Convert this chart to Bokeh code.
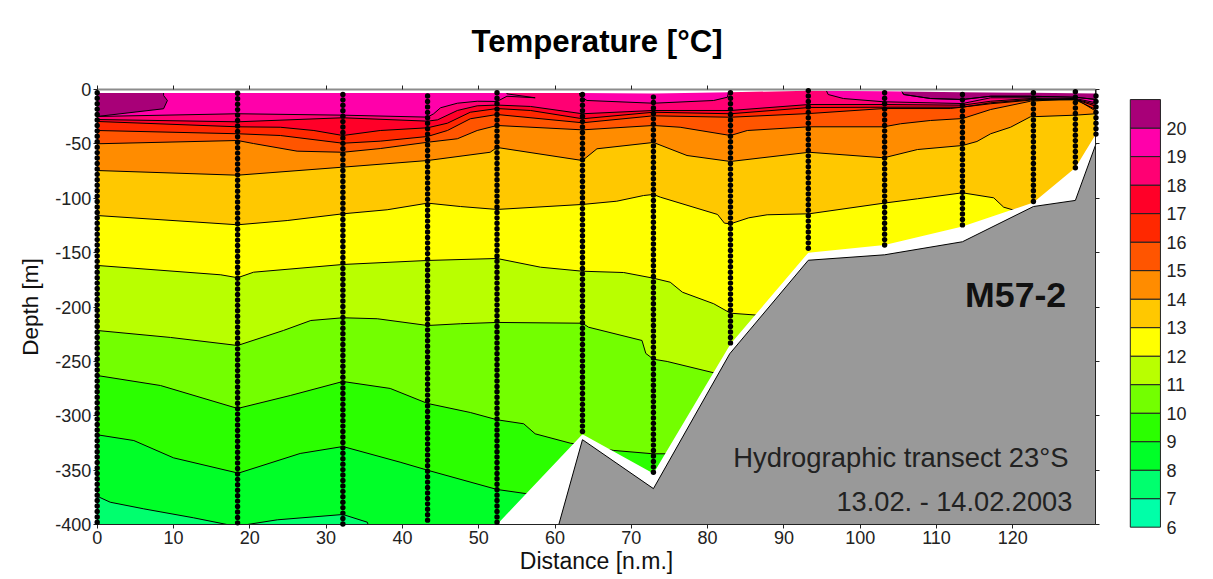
from bokeh.plotting import figure
from bokeh.models import LinearAxis, FixedTicker, Range1d
from bokeh.core.properties import value
from bokeh.embed import file_html
from bokeh.resources import INLINE

FONT = "Liberation Sans"

# colour classes (temperature band lower limit -> colour)
band_low = [6, 7, 8, 9, 10, 11, 12, 13, 14, 15, 16, 17, 18, 19, 20]
band_col = ["#00FFA8", "#00FF6E", "#00FF28", "#2BFF00", "#73FF00", "#B9FF00", "#FFFF00", "#FFC800",
            "#FF8C00", "#FF5500", "#FF2800", "#FF0028", "#FF0073", "#FF00AA", "#A80078"]

# stations
st_x = [0, 18.4, 32.2, 43.3, 52.4, 63.6, 72.9, 83.0, 93.2, 103.2, 113.4, 122.7, 128.2, 130.9]
st_first = [-3, -3.5, -4.5, -6, -3, -4.5, -7, -3, -1, -3, -4.5, -3, -2, -6]
st_last = [-400, -400, -402, -400, -400, -317, -353, -234, -150, -143, -126, -104, -72, -41]
sample_offset = [0, 5, 10, 15, 20, 25, 30, 35, 40, 45, 50, 55, 60, 65, 70, 75, 80, 85, 90, 95,
                 100, 105, 110, 115, 120, 125, 130, 135, 140, 145, 150, 155, 160, 165, 170, 175, 180, 185, 190, 195,
                 200, 205, 210, 215, 220, 225, 230, 235, 240, 245, 250, 255, 260, 265, 270, 275, 280, 285, 290, 295,
                 300, 305, 310, 315, 320, 325, 330, 335, 340, 345, 350, 355, 360, 365, 370, 375, 380, 385, 390, 395, 400]

# sea surface of the blanked section
surf_x = [0, 52.4, 63.6, 72.9, 83.0, 93.2, 103.2, 113.4, 122.7, 130.9]
surf_z = [-3.3, -3.3, -3.3, -3.7, -2.5, -1.2, -1.5, -2.5, -3, -3.7]

# sea floor
bed_x = [60.5, 63.6, 72.9, 82.9, 93.2, 103.2, 113.4, 122.7, 128.2, 130.9]
bed_z = [-400, -322, -367, -243, -157, -152, -140, -107.6, -102, -50]

# 20 degree isotherm patches
iso20a_x = [0, 8.7, 9.2, 8.7, 8.7, 0]
iso20a_z = [-24.8, -17.7, -10.1, -5.5, 0, 0]
iso20b_x = [105.3, 105.7, 109.2, 113.4, 117.1, 122.3, 128.2, 130.9, 130.9]
iso20b_z = [0, -4.6, -8.3, -9.2, -6.2, -6.2, -7.1, -9.2, 0]

iso19_x = [0, 18.4, 32.2, 43.3, 44.1, 45, 47.2, 49.8, 52.4, 53.7, 57.4, 53.7, 53.7, 63.1, 63.3, 64.2, 72.9, 80.8, 82.6, 82.8, 95.5, 95.8, 97.8, 103.1, 113.4, 117.1, 122.3, 128.2, 130.9]
iso19_z = [-24.8, -22.3, -23.6, -25.4, -22.3, -16.8, -12.6, -10.8, -11, -6.2, -7.6, -4, 0, 0, -6.4, -10.1, -12.6, -10.1, -7.1, 0, 0, -4.6, -8.3, -11.3, -12.9, -7.6, -7.6, -8.3, -12.2]
iso18_x = [0, 18.4, 32.2, 43.3, 44.6, 47.2, 49.8, 52.4, 56.8, 63.6, 72.9, 83, 93.3, 103.1, 113.4, 117.1, 122.3, 128.2, 130.9]
iso18_z = [-27.6, -29.7, -26, -29.1, -27.9, -19.3, -15, -14.3, -15.6, -22.3, -19.3, -19.3, -13.8, -13.8, -14.4, -10.8, -8.3, -8.9, -13.8]
iso17_x = [0, 18.4, 24, 28.4, 32.2, 37.1, 43.3, 45.9, 48.9, 52.4, 56.8, 63.6, 72.9, 83, 93.3, 103.1, 113.4, 117.1, 122.3, 128.2, 130.9]
iso17_z = [-29.4, -34.3, -34.7, -37.7, -42.3, -37.7, -35.2, -31, -20.9, -17.5, -19.3, -26.9, -20.9, -22.3, -16.6, -16.3, -16.3, -12.2, -9.2, -9.2, -15.4]
iso16_x = [0, 18.4, 24, 32.2, 37.1, 43.3, 45.9, 48.9, 52.4, 63.6, 72.9, 83, 93.3, 103.1, 111.8, 117.1, 122.3, 128.2, 130.9]
iso16_z = [-37.7, -40.7, -42.3, -49.4, -47.5, -43.2, -37.7, -26.9, -23, -30.6, -24.2, -25.5, -22.1, -17.5, -17.5, -13.1, -9.8, -9.5, -18.4]
iso15_x = [0, 18.4, 20.5, 26.2, 32.2, 37.1, 43.3, 47.2, 49.8, 52.4, 63.6, 72.9, 76.4, 83, 85.2, 93.3, 103.1, 105.3, 109.2, 113.4, 117.1, 122.3, 128.2, 129.1, 130.9]
iso15_z = [-49.9, -46.9, -49.7, -56.7, -57.7, -54.3, -48.5, -45.3, -37.7, -33.1, -37.1, -33.1, -34.7, -42.3, -37.7, -34.3, -34.3, -31.5, -28.5, -26.7, -18.4, -10.8, -8.3, -12.2, -20]
iso14_x = [0, 18.4, 32.2, 43.3, 51.5, 52.4, 63.6, 65.5, 72.9, 77.3, 83, 93.3, 103.1, 107.5, 113.4, 115.3, 117.1, 119.7, 122.3, 128.2, 130.9]
iso14_z = [-74.5, -78.8, -71.4, -65.3, -57.7, -53.3, -65.3, -54.5, -48.7, -60.7, -66.2, -57.7, -62.8, -55.2, -51.5, -47.8, -40.7, -34.7, -25.1, -23.6, -22.3]
iso13_x = [0, 18.4, 24.9, 32.2, 38, 43.3, 47.6, 52.4, 63.6, 68.1, 71.6, 72.9, 73.8, 81.3, 82.2, 83, 85.4, 87.8, 93.3, 103.1, 107.5, 113.4, 117.5, 118.8, 120.6, 123.6]
iso13_z = [-115.9, -124.4, -120.5, -114.3, -110.6, -104.5, -107.6, -110.3, -105.7, -102.7, -97.5, -96.5, -99, -114.9, -122.9, -123.5, -118, -115.2, -114.3, -104.5, -100.5, -95, -99.6, -108.2, -111.9, -115.9]
iso12_x = [0, 16.2, 18.4, 20.5, 32.2, 43.3, 52.4, 58.1, 63.6, 69, 72.9, 75.1, 76.7, 80.8, 83, 86.5, 88.9]
iso12_z = [-161.8, -170.4, -173.1, -168, -160.9, -157.2, -155.4, -163.4, -167.1, -168.3, -173.5, -177.2, -186.4, -197, -205.7, -207.5, -209]
iso11_x = [0, 9.6, 18.4, 24.4, 28, 32.2, 36.7, 43.3, 47.6, 52.4, 63.6, 64.4, 71.4, 71.9, 72.9, 74.7, 80.8, 81.9]
iso11_z = [-221.6, -228, -235.4, -221.6, -212.4, -209.9, -210.8, -217, -215.4, -214.2, -214.9, -218.6, -230.8, -242.7, -248, -250.1, -260.5, -262]
iso10_x = [0, 8.3, 18.4, 25.3, 32.2, 38.4, 43.3, 48.9, 52.4, 55.9, 57.4, 62, 67.7, 72.9, 74.5, 75.4]
iso10_z = [-263, -272.2, -293.3, -281.4, -268.5, -274.9, -288.7, -297, -303.7, -307.4, -316.6, -325.2, -331.9, -335, -335, -335]
iso9_x = [0, 4.8, 10, 18.5, 26.6, 32.2, 39.7, 43.4, 52.4, 56.1, 57.4]
iso9_z = [-317.5, -322.8, -338.7, -352.8, -334.7, -328.3, -342.7, -350.3, -367.8, -371.5, -373.3]
iso8_x = [0, 1.7, 6.1, 12.6, 17, 19.7, 23.6, 32.2, 35.4, 35.5]
iso8_z = [-374, -379.5, -385.6, -393.8, -400, -400, -395.7, -390.8, -397.9, -400]

# isotherm -> colour of the band that lies below it, warm to cold
isotherms = [(19, iso19_x, iso19_z), (18, iso18_x, iso18_z), (17, iso17_x, iso17_z), (16, iso16_x, iso16_z),
             (15, iso15_x, iso15_z), (14, iso14_x, iso14_z), (13, iso13_x, iso13_z), (12, iso12_x, iso12_z),
             (11, iso11_x, iso11_z), (10, iso10_x, iso10_z), (9, iso9_x, iso9_z), (8, iso8_x, iso8_z)]

# text
title_text = "Temperature [°C]"
note_text = ["M57-2", "Hydrographic transect 23°S", "13.02. - 14.02.2003"]
note_x = [127.0, 127.3, 127.8]
note_z = [-189.4, -338.4, -378.9]
x_ticks = [0, 10, 20, 30, 40, 50, 60, 70, 80, 90, 100, 110, 120]
z_ticks = [0, -50, -100, -150, -200, -250, -300, -350, -400]
z_tick_labels = ["0", "-50", "-100", "-150", "-200", "-250", "-300", "-350", "-400"]
bar_ticks = [6, 7, 8, 9, 10, 11, 12, 13, 14, 15, 16, 17, 18, 19, 20]

col_of = dict(zip(band_low, band_col))
X_END = st_x[-1]
BAR_L, BAR_R = 135.4, 139.35

p = figure(width=1210, height=575, x_range=Range1d(-12.674, 145.91), y_range=Range1d(-446.9, 26.67),
           x_axis_type=None, y_axis_type=None, toolbar_location=None, output_backend="svg",
           min_border_left=0, min_border_right=0, min_border_top=60, min_border_bottom=0,
           outline_line_color=None, title=title_text)
p.extra_y_ranges = {"bar": Range1d(4.305, 22.37)}
p.title.text_font = FONT
p.title.text_font_size = "31.2px"
p.title.text_font_style = "bold"
p.title.text_color = "#000000"
p.title.align = "left"
p.title.offset = 471
p.title.standoff = 3

# warmest water everywhere, then each colder class on top
p.patch([0, X_END, X_END, 0], [0, 0, -400, -400], fill_color=col_of[19], line_color=None)
p.patch(iso20a_x, iso20a_z, fill_color=col_of[20], line_color="black", line_width=1)
p.patch(iso20b_x, iso20b_z, fill_color=col_of[20], line_color="black", line_width=1)
for t, xs, zs in isotherms:
    p.patch(list(xs) + [xs[-1], 0], list(zs) + [-400, -400], fill_color=col_of[t - 1], line_color=None)
for t, xs, zs in isotherms:
    p.line(xs, zs, line_color="black", line_width=1)
p.line(iso20b_x[:-1], iso20b_z[:-1], line_color="black", line_width=1)

# blanking outside the sampled water
p.patch([0] + surf_x + [X_END], [1] + surf_z + [1], fill_color="white", line_color=None)
i0 = 4
p.patch(st_x[i0:] + [X_END], st_last[i0:] + [-400], fill_color="white", line_color=None)

# sea floor
p.patch(bed_x + [X_END], bed_z + [-400], fill_color="#999999", line_color=None)
p.line(bed_x, bed_z, line_color="black", line_width=1)

# CTD samples
dot_x, dot_z = [], []
for sx, first, last in zip(st_x, st_first, st_last):
    for off in sample_offset:
        z = first - off
        if z >= last:
            dot_x.append(sx)
            dot_z.append(z)
p.scatter(dot_x, dot_z, size=5.4, marker="circle", fill_color="black", line_color=None, level="overlay")

# notes
p.text(note_x[:1], note_z[:1], text=note_text[:1], text_font=value(FONT), text_font_size="35.7px",
       text_font_style="bold", text_align="right", text_baseline="middle", text_color="#111111")
p.text(note_x[1:2], note_z[1:2], text=note_text[1:2], text_font=value(FONT), text_font_size="27.4px",
       text_align="right", text_baseline="middle", text_color="#222222")
p.text(note_x[2:], note_z[2:], text=note_text[2:], text_font=value(FONT), text_font_size="27.2px",
       text_align="right", text_baseline="middle", text_color="#222222")

# colour bar
p.quad(left=BAR_L, right=BAR_R, bottom=band_low, top=[b + 1 for b in band_low], fill_color=band_col,
       line_color="#222222", line_width=1, y_range_name="bar")


def style(ax):
    ax.axis_line_color = "#222222"
    ax.axis_line_width = 1
    ax.major_tick_line_color = "#222222"
    ax.major_tick_in = 0
    ax.major_tick_out = 4
    ax.minor_tick_line_color = None
    ax.major_label_text_font = FONT
    ax.major_label_text_font_size = "18px"
    ax.major_label_text_color = "#222222"
    ax.axis_label_text_font = FONT
    ax.axis_label_text_font_style = "normal"
    ax.axis_label_text_font_size = "22.5px"
    ax.axis_label_text_color = "#111111"


left = LinearAxis(ticker=FixedTicker(ticks=z_ticks), fixed_location=0, bounds=(-400, 0), axis_label="Depth [m]",
                  major_label_overrides=dict(zip(z_ticks, z_tick_labels)))
style(left)
left.major_label_standoff = 2
left.axis_label_standoff = 9
p.add_layout(left, "left")

right = LinearAxis(ticker=FixedTicker(ticks=z_ticks), fixed_location=X_END, bounds=(-400, 0))
style(right)
right.major_label_text_color = None
p.add_layout(right, "right")

bottom = LinearAxis(ticker=FixedTicker(ticks=x_ticks), fixed_location=-400, bounds=(0, X_END), axis_label="Distance [n.m.]")
style(bottom)
bottom.axis_label_text_font_size = "23px"
bottom.major_label_standoff = 3
bottom.axis_label_standoff = 0
p.add_layout(bottom, "below")

top = LinearAxis(ticker=FixedTicker(ticks=x_ticks), fixed_location=0, bounds=(0, X_END))
style(top)
top.major_label_text_color = None
top.axis_line_color = "#8c8c8c"
top.axis_line_width = 2
p.add_layout(top, "above")

cb_ax = LinearAxis(ticker=FixedTicker(ticks=bar_ticks), y_range_name="bar", fixed_location=BAR_R)
style(cb_ax)
cb_ax.axis_line_color = None
cb_ax.major_tick_line_color = None
cb_ax.major_tick_out = 0
cb_ax.major_label_standoff = 6
p.add_layout(cb_ax, "right")

open("out.html", "w").write(file_html(p, INLINE))
